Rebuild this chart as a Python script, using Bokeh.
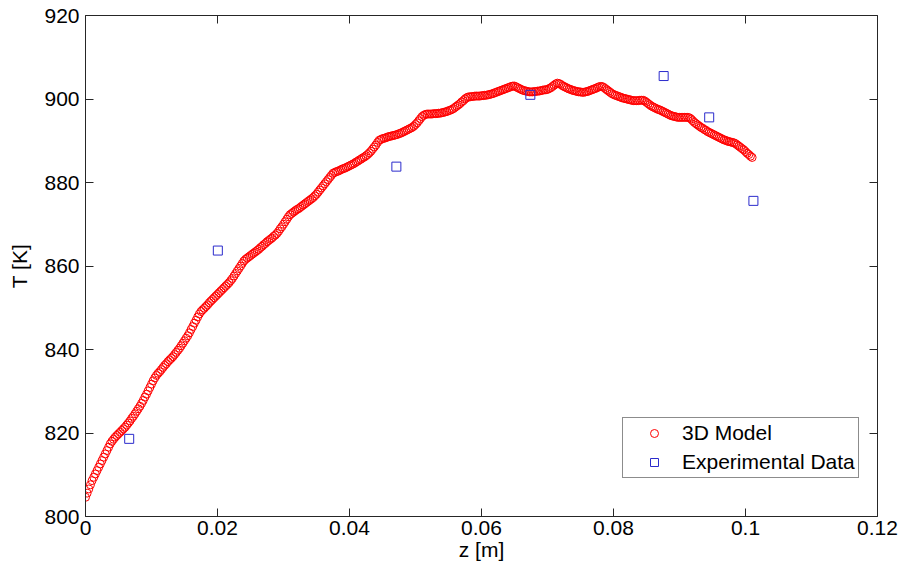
from bokeh.plotting import figure
from bokeh.models import (LinearAxis, FixedTicker, CustomJSTickFormatter, Range1d,
                          Legend, LegendItem)
from bokeh.embed import file_html
from bokeh.resources import INLINE

# ---- data ----
z_model = [
    0.0, 0.00025, 0.0005, 0.00075, 0.001, 0.00125, 0.0015, 0.00175, 0.002, 0.00225,
    0.0025, 0.00275, 0.003, 0.00325, 0.0035, 0.00375, 0.004, 0.00425, 0.0045, 0.00475,
    0.005, 0.00525, 0.0055, 0.00575, 0.006, 0.00625, 0.0065, 0.00675, 0.007, 0.00725,
    0.0075, 0.00775, 0.008, 0.00825, 0.0085, 0.00875, 0.009, 0.00925, 0.0095, 0.00975,
    0.01, 0.01025, 0.0105, 0.01075, 0.011, 0.01125, 0.0115, 0.01175, 0.012, 0.01225,
    0.0125, 0.01275, 0.013, 0.01325, 0.0135, 0.01375, 0.014, 0.01425, 0.0145, 0.01475,
    0.015, 0.01525, 0.0155, 0.01575, 0.016, 0.01625, 0.0165, 0.01675, 0.017, 0.01725,
    0.0175, 0.01775, 0.018, 0.01825, 0.0185, 0.01875, 0.019, 0.01925, 0.0195, 0.01975,
    0.02, 0.02025, 0.0205, 0.02075, 0.021, 0.02125, 0.0215, 0.02175, 0.022, 0.02225,
    0.0225, 0.02275, 0.023, 0.02325, 0.0235, 0.02375, 0.024, 0.02425, 0.0245, 0.02475,
    0.025, 0.02525, 0.0255, 0.02575, 0.026, 0.02625, 0.0265, 0.02675, 0.027, 0.02725,
    0.0275, 0.02775, 0.028, 0.02825, 0.0285, 0.02875, 0.029, 0.02925, 0.0295, 0.02975,
    0.03, 0.03025, 0.0305, 0.03075, 0.031, 0.03125, 0.0315, 0.03175, 0.032, 0.03225,
    0.0325, 0.03275, 0.033, 0.03325, 0.0335, 0.03375, 0.034, 0.03425, 0.0345, 0.03475,
    0.035, 0.03525, 0.0355, 0.03575, 0.036, 0.03625, 0.0365, 0.03675, 0.037, 0.03725,
    0.0375, 0.03775, 0.038, 0.03825, 0.0385, 0.03875, 0.039, 0.03925, 0.0395, 0.03975,
    0.04, 0.04025, 0.0405, 0.04075, 0.041, 0.04125, 0.0415, 0.04175, 0.042, 0.04225,
    0.0425, 0.04275, 0.043, 0.04325, 0.0435, 0.04375, 0.044, 0.04425, 0.0445, 0.04475,
    0.045, 0.04525, 0.0455, 0.04575, 0.046, 0.04625, 0.0465, 0.04675, 0.047, 0.04725,
    0.0475, 0.04775, 0.048, 0.04825, 0.0485, 0.04875, 0.049, 0.04925, 0.0495, 0.04975,
    0.05, 0.05025, 0.0505, 0.05075, 0.051, 0.05125, 0.0515, 0.05175, 0.052, 0.05225,
    0.0525, 0.05275, 0.053, 0.05325, 0.0535, 0.05375, 0.054, 0.05425, 0.0545, 0.05475,
    0.055, 0.05525, 0.0555, 0.05575, 0.056, 0.05625, 0.0565, 0.05675, 0.057, 0.05725,
    0.0575, 0.05775, 0.058, 0.05825, 0.0585, 0.05875, 0.059, 0.05925, 0.0595, 0.05975,
    0.06, 0.06025, 0.0605, 0.06075, 0.061, 0.06125, 0.0615, 0.06175, 0.062, 0.06225,
    0.0625, 0.06275, 0.063, 0.06325, 0.0635, 0.06375, 0.064, 0.06425, 0.0645, 0.06475,
    0.065, 0.06525, 0.0655, 0.06575, 0.066, 0.06625, 0.0665, 0.06675, 0.067, 0.06725,
    0.0675, 0.06775, 0.068, 0.06825, 0.0685, 0.06875, 0.069, 0.06925, 0.0695, 0.06975,
    0.07, 0.07025, 0.0705, 0.07075, 0.071, 0.07125, 0.0715, 0.07175, 0.072, 0.07225,
    0.0725, 0.07275, 0.073, 0.07325, 0.0735, 0.07375, 0.074, 0.07425, 0.0745, 0.07475,
    0.075, 0.07525, 0.0755, 0.07575, 0.076, 0.07625, 0.0765, 0.07675, 0.077, 0.07725,
    0.0775, 0.07775, 0.078, 0.07825, 0.0785, 0.07875, 0.079, 0.07925, 0.0795, 0.07975,
    0.08, 0.08025, 0.0805, 0.08075, 0.081, 0.08125, 0.0815, 0.08175, 0.082, 0.08225,
    0.0825, 0.08275, 0.083, 0.08325, 0.0835, 0.08375, 0.084, 0.08425, 0.0845, 0.08475,
    0.085, 0.08525, 0.0855, 0.08575, 0.086, 0.08625, 0.0865, 0.08675, 0.087, 0.08725,
    0.0875, 0.08775, 0.088, 0.08825, 0.0885, 0.08875, 0.089, 0.08925, 0.0895, 0.08975,
    0.09, 0.09025, 0.0905, 0.09075, 0.091, 0.09125, 0.0915, 0.09175, 0.092, 0.09225,
    0.0925, 0.09275, 0.093, 0.09325, 0.0935, 0.09375, 0.094, 0.09425, 0.0945, 0.09475,
    0.095, 0.09525, 0.0955, 0.09575, 0.096, 0.09625, 0.0965, 0.09675, 0.097, 0.09725,
    0.0975, 0.09775, 0.098, 0.09825, 0.0985, 0.09875, 0.099, 0.09925, 0.0995, 0.09975,
    0.1, 0.10025, 0.1005, 0.10075, 0.101,
]
T_model = [
    804.6, 805.6, 806.6, 807.6, 808.6, 809.4, 810.2, 811.0, 811.8, 812.6,
    813.4, 814.2, 815.0, 815.8, 816.6, 817.4, 818.0, 818.5, 819.0, 819.4,
    819.8, 820.2, 820.6, 821.0, 821.4, 821.9, 822.4, 822.9, 823.5, 824.0,
    824.6, 825.2, 825.8, 826.4, 827.1, 827.8, 828.6, 829.3, 830.1, 830.9,
    831.7, 832.5, 833.2, 833.8, 834.3, 834.7, 835.2, 835.7, 836.2, 836.6,
    837.1, 837.5, 837.9, 838.3, 838.8, 839.3, 839.8, 840.3, 840.9, 841.5,
    842.1, 842.7, 843.3, 844.0, 844.8, 845.5, 846.3, 847.0, 847.8, 848.5,
    849.1, 849.5, 849.9, 850.3, 850.7, 851.2, 851.6, 852.0, 852.4, 852.8,
    853.2, 853.6, 854.0, 854.4, 854.8, 855.2, 855.6, 856.0, 856.5, 857.0,
    857.6, 858.2, 858.8, 859.4, 860.0, 860.6, 861.2, 861.6, 861.9, 862.2,
    862.5, 862.8, 863.1, 863.4, 863.7, 864.0, 864.4, 864.7, 865.1, 865.4,
    865.8, 866.1, 866.4, 866.7, 867.1, 867.4, 867.8, 868.3, 868.9, 869.4,
    870.0, 870.6, 871.2, 871.8, 872.3, 872.6, 872.9, 873.2, 873.5, 873.7,
    874.0, 874.3, 874.6, 874.9, 875.2, 875.5, 875.8, 876.1, 876.4, 876.8,
    877.2, 877.7, 878.2, 878.7, 879.2, 879.7, 880.2, 880.7, 881.2, 881.7,
    882.2, 882.4, 882.6, 882.7, 882.9, 883.1, 883.3, 883.4, 883.6, 883.8,
    884.0, 884.2, 884.4, 884.6, 884.9, 885.1, 885.4, 885.6, 885.9, 886.1,
    886.4, 886.7, 887.1, 887.5, 888.0, 888.5, 889.0, 889.6, 890.1, 890.3,
    890.5, 890.6, 890.7, 890.9, 891.0, 891.1, 891.2, 891.3, 891.4, 891.5,
    891.7, 891.8, 892.0, 892.2, 892.4, 892.6, 892.8, 893.0, 893.2, 893.5,
    893.9, 894.3, 894.8, 895.3, 895.8, 896.1, 896.3, 896.4, 896.4, 896.4,
    896.4, 896.5, 896.5, 896.5, 896.6, 896.6, 896.7, 896.8, 896.9, 897.0,
    897.2, 897.3, 897.5, 897.7, 898.0, 898.3, 898.6, 898.9, 899.3, 899.6,
    900.0, 900.3, 900.5, 900.5, 900.6, 900.6, 900.7, 900.7, 900.7, 900.7,
    900.8, 900.8, 900.9, 900.9, 901.0, 901.1, 901.2, 901.3, 901.5, 901.6,
    901.8, 901.9, 902.1, 902.2, 902.4, 902.5, 902.7, 902.8, 903.0, 903.1,
    903.1, 902.9, 902.7, 902.5, 902.3, 902.1, 902.0, 901.9, 901.8, 901.7,
    901.7, 901.7, 901.8, 901.8, 901.9, 901.9, 902.0, 902.1, 902.2, 902.2,
    902.3, 902.5, 902.7, 903.0, 903.3, 903.6, 903.8, 903.7, 903.5, 903.2,
    903.0, 902.8, 902.6, 902.4, 902.3, 902.1, 902.0, 901.9, 901.8, 901.7,
    901.7, 901.6, 901.6, 901.7, 901.8, 901.9, 902.1, 902.2, 902.4, 902.5,
    902.7, 902.9, 903.0, 903.0, 902.8, 902.5, 902.2, 901.9, 901.6, 901.3,
    901.1, 900.9, 900.8, 900.6, 900.5, 900.3, 900.2, 900.1, 900.0, 899.9,
    899.8, 899.7, 899.6, 899.6, 899.6, 899.6, 899.7, 899.7, 899.7, 899.5,
    899.2, 898.9, 898.6, 898.3, 898.1, 897.9, 897.7, 897.5, 897.4, 897.2,
    897.0, 896.8, 896.6, 896.4, 896.2, 896.0, 895.9, 895.8, 895.7, 895.6,
    895.6, 895.6, 895.6, 895.6, 895.6, 895.6, 895.5, 895.2, 894.8, 894.4,
    894.1, 893.8, 893.5, 893.2, 893.0, 892.7, 892.5, 892.2, 892.0, 891.8,
    891.6, 891.4, 891.2, 891.0, 890.8, 890.6, 890.4, 890.2, 890.1, 889.9,
    889.8, 889.7, 889.6, 889.5, 889.3, 889.0, 888.7, 888.4, 888.1, 887.8,
    887.4, 887.0, 886.7, 886.3, 886.0,
]
z_exp = [0.00662, 0.02005, 0.0471, 0.0674, 0.0876, 0.0945, 0.1012]
T_exp = [818.6, 863.7, 883.8, 901.0, 905.5, 895.6, 875.6]

x_ticks = [0, 0.02, 0.04, 0.06, 0.08, 0.1, 0.12]
y_ticks = [800, 820, 840, 860, 880, 900, 920]
series_labels = ["3D Model", "Experimental Data"]

FONT = "Liberation Sans"
FS = "21px"
AX = "#262626"

p = figure(width=902, height=579, output_backend="svg", toolbar_location=None,
           x_range=Range1d(0, 0.12), y_range=Range1d(800, 920),
           min_border_left=85, min_border_right=25, min_border_top=15,
           min_border_bottom=63, x_axis_label="z [m]", y_axis_label="T [K]")
p.outline_line_color = None
p.grid.visible = False
p.background_fill_color = "white"
p.border_fill_color = "white"

xa = p.xaxis[0]
ya = p.yaxis[0]
xa.ticker = FixedTicker(ticks=x_ticks)
ya.ticker = FixedTicker(ticks=y_ticks)
xa.formatter = CustomJSTickFormatter(code="return String(parseFloat(tick.toFixed(4)));")
for ax in (xa, ya):
    ax.major_tick_in = 8
    ax.major_tick_out = 0
    ax.minor_tick_line_color = None
    ax.axis_line_color = AX
    ax.major_tick_line_color = AX
    ax.major_label_text_font = FONT
    ax.major_label_text_font_size = FS
    ax.major_label_text_color = "black"
    ax.axis_label_text_font = FONT
    ax.axis_label_text_font_size = FS
    ax.axis_label_text_font_style = "normal"
    ax.axis_label_text_color = "black"
xa.major_label_standoff = 4
xa.axis_label_standoff = 0
ya.major_label_standoff = 6
ya.axis_label_standoff = 10

r1 = p.scatter(z_model, T_model, marker="circle", size=8, fill_color=None,
               line_color="#ff0000", line_width=1)
r2 = p.scatter(z_exp, T_exp, marker="square", size=9, fill_color=None,
               line_color="#2b2bcc", line_width=1)

for loc, ticks in (("above", x_ticks), ("right", y_ticks)):
    ax = LinearAxis(ticker=FixedTicker(ticks=ticks),
                    formatter=CustomJSTickFormatter(code='return "";'),
                    major_label_text_font_size="0px", major_label_standoff=0,
                    major_tick_in=8, major_tick_out=0, minor_tick_line_color=None,
                    axis_line_color=AX, major_tick_line_color=AX)
    p.add_layout(ax, loc)

legend = Legend(items=[LegendItem(label=series_labels[0], renderers=[r1]),
                       LegendItem(label=series_labels[1], renderers=[r2])],
                location=(537, 38), orientation="vertical")
legend.border_line_color = "#1a1a1a"
legend.border_line_width = 1
legend.background_fill_color = "white"
legend.background_fill_alpha = 1
legend.padding = 3
legend.spacing = 5
legend.margin = 0
legend.glyph_width = 56
legend.glyph_height = 20
legend.label_height = 20
legend.label_standoff = 0
legend.label_text_font = FONT
legend.label_text_font_size = FS
legend.label_text_color = "black"
p.add_layout(legend)

open("out.html", "w").write(file_html(p, INLINE))
